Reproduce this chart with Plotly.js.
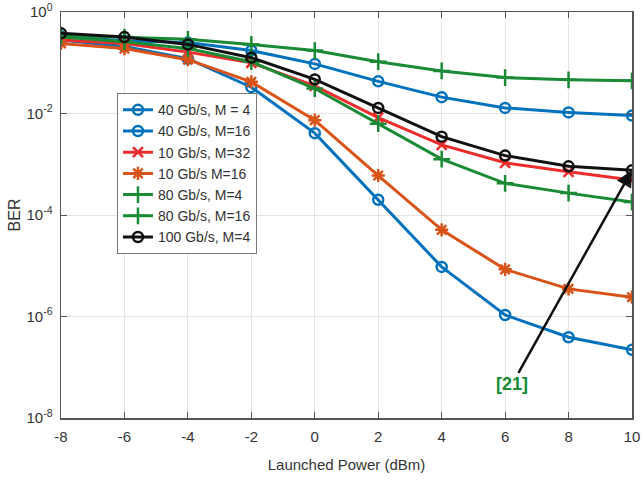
<!DOCTYPE html>
<html>
<head>
<meta charset="utf-8">
<script src="https://cdn.plot.ly/plotly-3.0.1.min.js"></script>
<style>html,body{margin:0;padding:0;background:#fff;}#chart{width:643px;height:480px;}</style>
</head>
<body>
<div id="chart"></div>
<script>
// Launched power (dBm)
const power = [-8, -6, -4, -2, 0, 2, 4, 6, 8, 10];
// BER values
const ber40M4   = [2.8e-1, 2.1e-1, 1.2e-1, 3.3e-2, 4.1e-3, 2.0e-4, 9.5e-6, 1.07e-6, 3.9e-7, 2.2e-7];
const ber40M16  = [3.3e-1, 2.7e-1, 2.5e-1, 1.74e-1, 9.5e-2, 4.3e-2, 2.1e-2, 1.29e-2, 1.05e-2, 9.1e-3];
const ber10M32  = [2.8e-1, 2.4e-1, 1.62e-1, 1.0e-1, 3.5e-2, 8.3e-3, 2.4e-3, 1.07e-3, 7.1e-4, 4.9e-4];
const ber10M16  = [2.4e-1, 1.9e-1, 1.15e-1, 4.2e-2, 7.4e-3, 6.0e-4, 5.1e-5, 8.5e-6, 3.5e-6, 2.4e-6];
const ber80M4   = [3.5e-1, 3.2e-1, 2.9e-1, 2.3e-1, 1.74e-1, 1.05e-1, 6.9e-2, 5.1e-2, 4.6e-2, 4.4e-2];
const ber80M16  = [3.2e-1, 2.6e-1, 1.9e-1, 1.05e-1, 3.1e-2, 6.3e-3, 1.26e-3, 4.2e-4, 2.7e-4, 1.8e-4];
const ber100M4  = [3.8e-1, 3.2e-1, 2.3e-1, 1.26e-1, 4.7e-2, 1.29e-2, 3.5e-3, 1.48e-3, 9.1e-4, 7.6e-4];
const seriesNames = ["40 Gb/s, M = 4", "40 Gb/s, M=16", "10 Gb/s, M=32", "10 Gb/s M=16", "80 Gb/s, M=4", "80 Gb/s, M=16", "100 Gb/s, M=4"];
const xTicks = [-8, -6, -4, -2, 0, 2, 4, 6, 8, 10];
const yTickVals = [1e-8, 1e-6, 1e-4, 1e-2, 1];
const yTickText = ["10<sup>-8</sup>", "10<sup>-6</sup>", "10<sup>-4</sup>", "10<sup>-2</sup>", "10<sup>0</sup>"];
const refLabel = "[21]";

const blue = "#0072BD", red = "#EE2C2C", orange = "#D95319", green = "#1A8A35", black = "#111111";
const FONT = "Liberation Sans Narrow, Liberation Sans, Arial, sans-serif";

function tr(y, name, color, symbol, msize) {
  return {
    x: power, y: y, name: name, type: "scatter", mode: "lines+markers",
    line: {color: color, width: 3},
    marker: {symbol: symbol, size: msize, color: color, line: {color: color, width: 2.5}}
  };
}
const data = [
  tr(ber40M4, seriesNames[0], blue, "circle-open", 10),
  tr(ber40M16, seriesNames[1], blue, "circle-open", 10),
  tr(ber10M32, seriesNames[2], red, "x-thin-open", 10),
  tr(ber10M16, seriesNames[3], orange, "asterisk-open", 11),
  tr(ber80M4, seriesNames[4], green, "cross-thin-open", 12),
  tr(ber80M16, seriesNames[5], green, "cross-thin-open", 12),
  tr(ber100M4, seriesNames[6], black, "circle-open", 10)
];

const layout = {
  width: 643, height: 480,
  margin: {l: 61, r: 11, t: 12, b: 62},
  paper_bgcolor: "#fff", plot_bgcolor: "#fff",
  font: {family: FONT, color: "#333", size: 14},
  showlegend: true,
  legend: {
    x: 0.098, y: 0.80, xanchor: "left", yanchor: "top",
    bgcolor: "#fff", bordercolor: "#777", borderwidth: 1,
    font: {family: FONT, size: 14, color: "#333"},
    tracegroupgap: 0, itemwidth: 30
  },
  xaxis: {
    range: [-8, 10], tickvals: xTicks, ticktext: xTicks.map(String),
    showgrid: true, gridcolor: "#e3e3e3", gridwidth: 1,
    zeroline: false, showline: true, linecolor: "#555", linewidth: 1.5, mirror: "ticks",
    ticks: "inside", ticklen: 6, tickcolor: "#555", ticklabelstandoff: 4,
    tickfont: {family: FONT, size: 15, color: "#333"},
    title: {text: "Launched Power (dBm)", font: {family: FONT, size: 15, color: "#333"}, standoff: 16}
  },
  yaxis: {
    type: "log", range: [-8, 0], tickvals: yTickVals, ticktext: yTickText,
    showgrid: true, gridcolor: "#e3e3e3", gridwidth: 1,
    zeroline: false, showline: true, linecolor: "#555", linewidth: 1.5, mirror: "ticks",
    ticks: "inside", ticklen: 6, tickcolor: "#555", ticklabelstandoff: 4,
    tickfont: {family: FONT, size: 15, color: "#333"},
    title: {text: "BER", font: {family: FONT, size: 16, color: "#333"}, standoff: 2}
  },
  annotations: [{
    x: 10, y: Math.log10(ber100M4[9]), xref: "x", yref: "y",
    text: "<b>" + refLabel + "</b>", showarrow: true,
    ax: -120, ay: 214, arrowhead: 2, arrowsize: 1.3, arrowwidth: 2.5, arrowcolor: "#111",
    font: {family: FONT, size: 18, color: "#1A8A35"}
  }]
};
Plotly.newPlot("chart", data, layout, {displayModeBar: false, staticPlot: true});
</script>
</body>
</html>
